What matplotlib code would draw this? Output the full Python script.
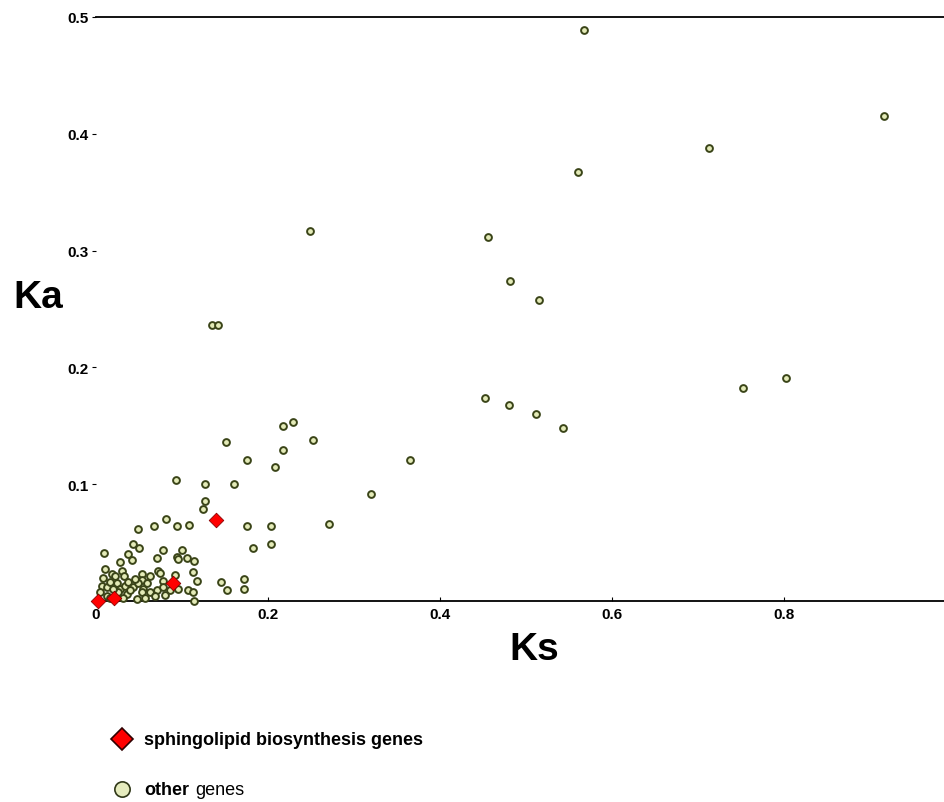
import matplotlib.pyplot as plt

plt.rcParams['font.family'] = ['Liberation Sans', 'DejaVu Sans']

# other genes (Ks, Ka)
other_ks = [0.567, 0.916, 0.713, 0.560, 0.456, 0.249, 0.481, 0.515, 0.135, 0.142,
            0.752, 0.802, 0.452, 0.480, 0.512, 0.543, 0.365, 0.320, 0.271, 0.229,
            0.217, 0.217, 0.252, 0.151, 0.176, 0.208, 0.160, 0.127, 0.127, 0.124,
            0.093, 0.108, 0.094, 0.081, 0.067, 0.049, 0.176, 0.203, 0.203, 0.183,
            0.172, 0.172, 0.145, 0.152,
            0.009, 0.028, 0.037, 0.042, 0.043, 0.050, 0.078, 0.071, 0.094, 0.095,
            0.100, 0.106, 0.114, 0.019, 0.030, 0.033, 0.053, 0.053, 0.063, 0.072,
            0.074, 0.078, 0.092, 0.113, 0.117,
            0.008, 0.007, 0.013, 0.016, 0.024, 0.028, 0.034, 0.037, 0.043, 0.049,
            0.055, 0.059, 0.063, 0.048, 0.013, 0.036, 0.071, 0.078, 0.086, 0.095,
            0.107, 0.113, 0.114, 0.005, 0.026, 0.053, 0.020, 0.040, 0.045, 0.022,
            0.010, 0.057, 0.069, 0.080, 0.031, 0.016]
other_ka = [0.489, 0.415, 0.388, 0.367, 0.312, 0.317, 0.274, 0.258, 0.236, 0.236,
            0.182, 0.191, 0.174, 0.168, 0.160, 0.148, 0.121, 0.092, 0.066, 0.153,
            0.150, 0.129, 0.138, 0.136, 0.121, 0.115, 0.100, 0.100, 0.086, 0.079,
            0.104, 0.065, 0.064, 0.070, 0.064, 0.062, 0.064, 0.064, 0.049, 0.045,
            0.019, 0.010, 0.016, 0.009,
            0.041, 0.033, 0.040, 0.035, 0.049, 0.045, 0.044, 0.037, 0.038, 0.036,
            0.044, 0.037, 0.034, 0.023, 0.026, 0.021, 0.023, 0.018, 0.021, 0.026,
            0.024, 0.017, 0.022, 0.025, 0.017,
            0.020, 0.013, 0.012, 0.016, 0.015, 0.010, 0.013, 0.016, 0.012, 0.015,
            0.010, 0.015, 0.008, 0.002, 0.004, 0.006, 0.009, 0.012, 0.009, 0.010,
            0.009, 0.008, 0.000, 0.008, 0.008, 0.008, 0.010, 0.009, 0.019, 0.021,
            0.027, 0.003, 0.004, 0.005, 0.003, 0.003]

# sphingolipid biosynthesis genes
sphingo_ks = [0.002, 0.021, 0.090, 0.140]
sphingo_ka = [0.000, 0.003, 0.015, 0.069]

xticks = [0, 0.2, 0.4, 0.6, 0.8]
xticklabels = ["0", "0.2", "0.4", "0.6", "0.8"]
yticks = [0.1, 0.2, 0.3, 0.4, 0.5]

fig = plt.figure(figsize=(9.44, 8.03), dpi=100)
ax = fig.add_axes([0.1017, 0.2503, 0.8983, 0.7273])

ax.scatter(other_ks, other_ka, s=24, facecolor="#e4ebb8", edgecolor="#3a4418",
           linewidth=1.4, zorder=3, clip_on=False)
ax.scatter(sphingo_ks, sphingo_ka, s=55, marker="D", facecolor="#ff0000",
           edgecolor="#8a0000", linewidth=0.6, zorder=4, clip_on=False)

ax.set_xlim(0, 0.986)
ax.set_ylim(0, 0.5)
ax.spines["left"].set_visible(False)
ax.spines["right"].set_visible(False)
ax.spines["top"].set_linewidth(1.3)
ax.spines["bottom"].set_linewidth(1.3)

ax.set_xticks(xticks)
ax.set_xticklabels(xticklabels, fontweight="bold", fontsize=11)
ax.set_yticks(yticks)
ax.set_yticklabels(["0.1", "0.2", "0.3", "0.4", "0.5"], fontweight="bold", fontsize=11)
ax.tick_params(axis="x", direction="in", length=3, pad=4)
ax.tick_params(axis="y", direction="out", length=3, pad=2, width=0.8)

fig.text(0.040, 0.629, "Ka", fontsize=28, fontweight="bold", ha="center", va="center")
fig.text(0.566, 0.190, "Ks", fontsize=28, fontweight="bold", ha="center", va="center")

# legend
fig.lines.append(plt.Line2D([0.129], [0.078], transform=fig.transFigure, marker="D",
                            markersize=11, markerfacecolor="#ff0000",
                            markeredgecolor="#300000", markeredgewidth=1.2))
fig.text(0.153, 0.078, "sphingolipid biosynthesis genes", fontsize=13,
         fontweight="bold", va="center")
fig.lines.append(plt.Line2D([0.129], [0.016], transform=fig.transFigure, marker="o",
                            markersize=11, markerfacecolor="#e6ecbe",
                            markeredgecolor="#303818", markeredgewidth=1.2))
t1 = fig.text(0.153, 0.016, "other", fontsize=13, fontweight="bold", va="center")
ax.annotate("genes", xy=(1, 0.5), xycoords=t1, xytext=(4, 0),
            textcoords="offset points", fontsize=13, va="center")

fig.savefig("out.png", dpi=100)
